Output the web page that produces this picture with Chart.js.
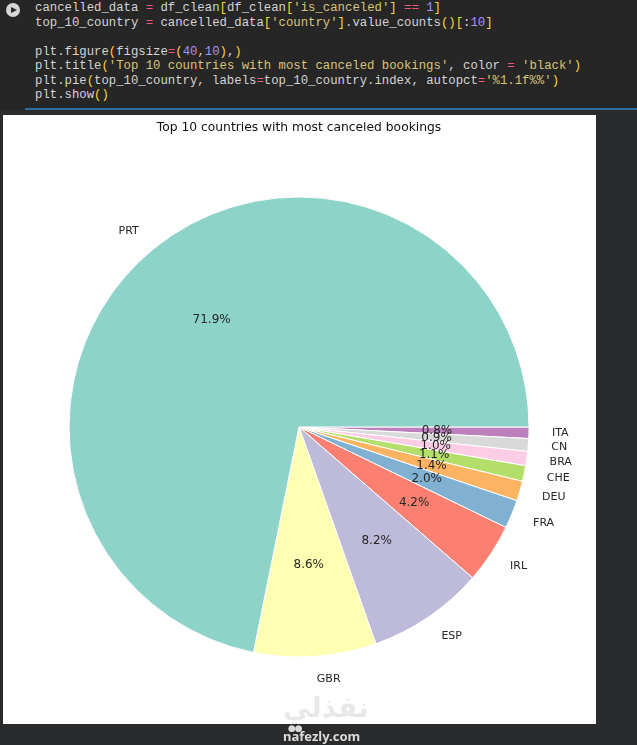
<!DOCTYPE html>
<html>
<head>
<meta charset="utf-8">
<script src="https://cdn.jsdelivr.net/npm/chart.js@4/dist/chart.umd.min.js"></script>
<style>
  html, body { margin:0; padding:0; width:637px; height:745px; background:#2a2b2d; overflow:hidden; }
  #code { position:absolute; left:0; top:0; width:637px; height:110px; background:#262626; }
  #code pre { position:absolute; left:35px; top:1px; margin:0; font-family:"Liberation Mono","DejaVu Sans Mono",monospace; font-size:12.3px; line-height:14.5px; color:#d4d4d4; }
  .op { color:#f05a78; } .br { color:#ffd33d; } .st { color:#d8c47a; } .nu { color:#a993f0; }
  #run { position:absolute; left:6px; top:3px; width:14px; height:14px; border-radius:50%; background:#d6d6d6; }
  #run:after { content:""; position:absolute; left:5px; top:3.5px; border-left:6px solid #262626; border-top:3.5px solid transparent; border-bottom:3.5px solid transparent; }
  #bar { position:absolute; left:25px; top:108px; width:612px; height:2px; background:#2f6b9a; }
  #panel { position:absolute; left:3px; top:115px; width:593px; height:609px; background:#ffffff; }
  #wm1 { position:absolute; left:283px; top:688px; width:74px; text-align:center; font-family:"Noto Sans","DejaVu Sans",sans-serif; font-size:28px; font-weight:bold; color:rgba(0,0,0,0.09); line-height:36px; }
  #wmdots { position:absolute; left:288px; top:725px; font-family:"DejaVu Sans",sans-serif; font-size:9px; line-height:6px; color:#d8d8d8; letter-spacing:-1px; }
  #wm2 { position:absolute; left:283px; top:729px; font-family:"Noto Sans","DejaVu Sans",sans-serif; font-size:13px; font-weight:bold; color:#dcdcdc; line-height:15px; }
</style>
</head>
<body>
<div id="code">
  <div id="run"></div>
<pre>cancelled_data <span class="op">=</span> df_clean<span class="br">[</span>df_clean<span class="br">[</span><span class="st">'is_canceled'</span><span class="br">]</span> <span class="op">==</span> <span class="nu">1</span><span class="br">]</span>
top_10_country <span class="op">=</span> cancelled_data<span class="br">[</span><span class="st">'country'</span><span class="br">]</span>.value_counts<span class="br">()[</span>:<span class="nu">10</span><span class="br">]</span>

plt.figure<span class="br">(</span>figsize<span class="op">=</span><span class="br">(</span><span class="nu">40</span>,<span class="nu">10</span><span class="br">)</span>,<span class="br">)</span>
plt.title<span class="br">(</span><span class="st">'Top 10 countries with most canceled bookings'</span>, color <span class="op">=</span> <span class="st">'black'</span><span class="br">)</span>
plt.pie<span class="br">(</span>top_10_country, labels<span class="op">=</span>top_10_country.index, autopct<span class="op">=</span><span class="st">'%1.1f%%'</span><span class="br">)</span>
plt.show<span class="br">()</span></pre>
</div>
<div id="bar"></div>
<div id="panel"><canvas id="c"></canvas></div>
<div id="wm1">نفذلي</div>
<div id="wmdots">●●</div>
<div id="wm2">nafezly.com</div>
<script>
const chartTitle = 'Top 10 countries with most canceled bookings';
const countries = ['PRT','GBR','ESP','IRL','FRA','DEU','CHE','BRA','CN','ITA'];
const shares = [71.9, 8.6, 8.2, 4.2, 2.0, 1.4, 1.1, 1.0, 0.9, 0.8];
const sliceColors = ['#8dd3c7','#ffffb3','#bebada','#fb8072','#80b1d3','#fdb462','#b3de69','#fccde5','#d9d9d9','#bc80bd'];

// matplotlib draws counter-clockwise from 3 o'clock; Chart.js draws clockwise,
// so feed the slices in reverse order starting at 3 o'clock.
const cLabels = countries.slice().reverse();
const cData = shares.slice().reverse();
const cColors = sliceColors.slice().reverse();

const pieLabels = {
  id: 'pieLabels',
  afterDatasetsDraw(chart) {
    const ctx = chart.ctx;
    const meta = chart.getDatasetMeta(0);
    ctx.save();
    ctx.fillStyle = '#262626';
    ctx.textBaseline = 'middle';
    meta.data.forEach((arc, i) => {
      const p = arc.getProps(['x','y','startAngle','endAngle','outerRadius'], true);
      const mid = (p.startAngle + p.endAngle) / 2;
      const c = Math.cos(mid), s = Math.sin(mid);
      ctx.font = '11px "DejaVu Sans", sans-serif';
      ctx.textAlign = c > 0 ? 'left' : 'right';
      ctx.fillText(cLabels[i], p.x + c * p.outerRadius * 1.1, p.y + s * p.outerRadius * 1.1);
      ctx.font = '12px "DejaVu Sans", sans-serif';
      ctx.textAlign = 'center';
      ctx.fillText(cData[i].toFixed(1) + '%', p.x + c * p.outerRadius * 0.6, p.y + s * p.outerRadius * 0.6);
    });
    ctx.restore();
  }
};

new Chart(document.getElementById('c'), {
  type: 'pie',
  data: {
    labels: cLabels,
    datasets: [{
      data: cData,
      backgroundColor: cColors,
      borderColor: '#ffffff',
      borderWidth: 1
    }]
  },
  options: {
    responsive: true,
    maintainAspectRatio: false,
    animation: false,
    rotation: 90,
    layout: { padding: { left: 65.5, right: 66.5, top: 0, bottom: 66.5 } },
    plugins: {
      legend: { display: false },
      tooltip: { enabled: false },
      title: {
        display: true,
        text: chartTitle,
        color: '#111111',
        font: { family: '"DejaVu Sans", sans-serif', size: 12.3, weight: 'normal', lineHeight: 1.2 },
        padding: { top: 5.5, bottom: 61.2 }
      }
    }
  },
  plugins: [pieLabels]
});
</script>
</body>
</html>
